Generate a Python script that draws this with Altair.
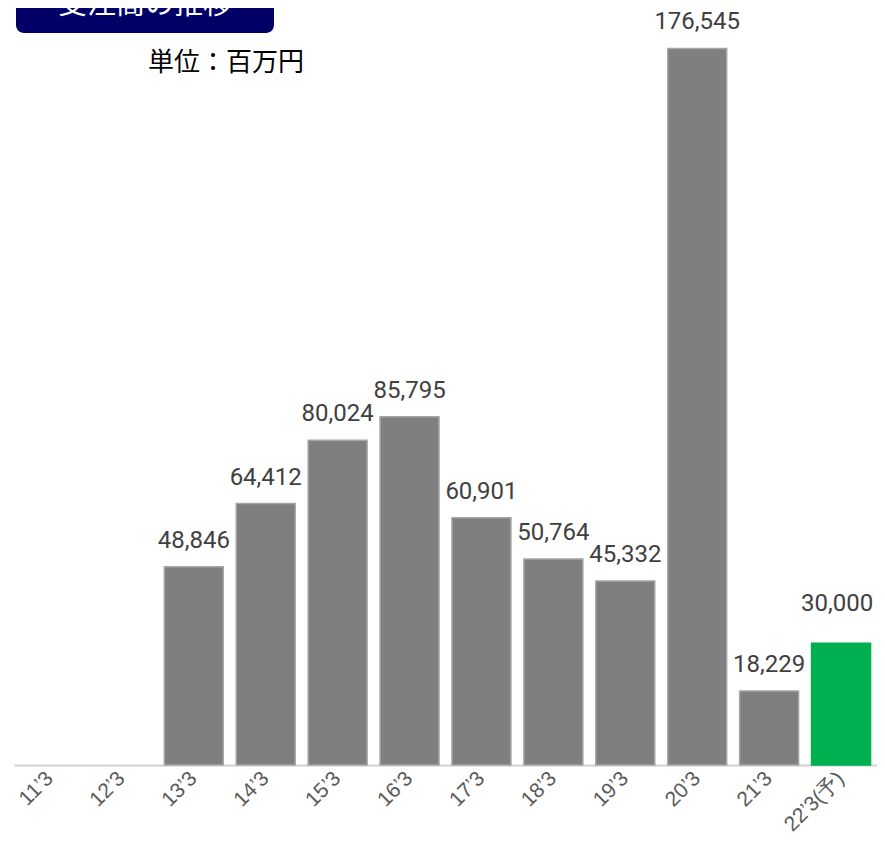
import altair as alt
import pandas as pd

years = ["11’3", "12’3", "13’3", "14’3", "15’3", "16’3", "17’3", "18’3", "19’3", "20’3", "21’3", "22’3(予)"]
values = [None, None, 48846, 64412, 80024, 85795, 60901, 50764, 45332, 176545, 18229, 30000]
kinds = ["actual"] * 11 + ["forecast"]

df = pd.DataFrame({"year": years, "value": values, "kind": kinds})
df["label"] = df["value"].map(lambda v: "" if pd.isna(v) else f"{int(v):,}")

x = alt.X("year:N", sort=years, title=None,
          scale=alt.Scale(paddingInner=0.18, paddingOuter=0.09),
          axis=alt.Axis(labelAngle=-45, labelAlign="right", labelBaseline="middle",
                        labelFontSize=21, labelColor="#5a5a5a", labelFont="Liberation Sans",
                        labelPadding=10, labelLimit=200, ticks=False,
                        domainColor="#d0d0d0", domainWidth=2))
y = alt.Y("value:Q", title=None, scale=alt.Scale(domain=[0, 186500], nice=False), axis=None)

base = alt.Chart(df)

bars = base.mark_bar(strokeWidth=1.5).encode(
    x=x, y=y,
    fill=alt.Fill("kind:N", scale=alt.Scale(domain=["actual", "forecast"], range=["#7f7f7f", "#00b050"]), legend=None),
    stroke=alt.Stroke("kind:N", scale=alt.Scale(domain=["actual", "forecast"], range=["#a6a6a6", "#00b050"]), legend=None),
)

labels_a = base.transform_filter("datum.kind == 'actual'").mark_text(
    baseline="alphabetic", dy=-19, fontSize=24, font="Roboto", color="#404040"
).encode(x=x, y=y, text="label:N")

labels_f = base.transform_filter("datum.kind == 'forecast'").mark_text(
    baseline="alphabetic", dy=-32, dx=-4, fontSize=24, font="Roboto", color="#404040"
).encode(x=x, y=y, text="label:N")

box = alt.Chart(pd.DataFrame({"t": ["受注高の推移"]})).mark_rect(
    color="#000066", cornerRadius=8
).encode(x=alt.value(2), x2=alt.value(260), y=alt.value(-30), y2=alt.value(25))

box_text = alt.Chart(pd.DataFrame({"t": ["受注高の推移"]})).mark_text(
    color="white", fontSize=29, font="Noto Sans CJK JP", baseline="alphabetic", align="center"
).encode(x=alt.value(131), y=alt.value(6), text="t:N")

unit = alt.Chart(pd.DataFrame({"t": ["単位：百万円"]})).mark_text(
    color="#000000", fontSize=26, font="Noto Sans CJK JP", baseline="middle", align="center"
).encode(x=alt.value(212), y=alt.value(55), text="t:N")

chart = alt.layer(bars, labels_a, labels_f, box, box_text, unit).properties(
    width=863, height=757,
    autosize=alt.AutoSizeParams(type="none"),
    padding={"left": 6, "top": 0, "right": 0, "bottom": 74},
).configure_view(stroke=None)

chart.save("out.html", embed_options={"renderer": "svg", "actions": False})
